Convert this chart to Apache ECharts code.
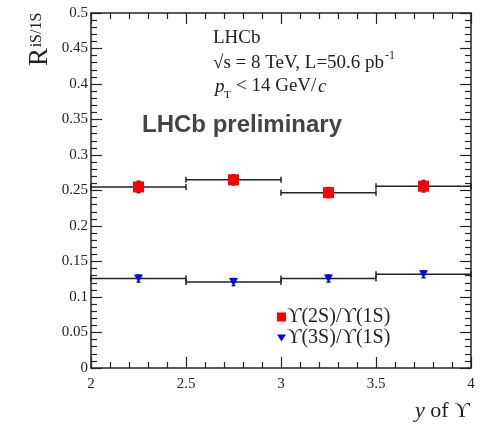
<!DOCTYPE html>
<html>
<head>
<meta charset="utf-8">
<script src="https://cdn.jsdelivr.net/npm/echarts@6/dist/echarts.min.js"></script>
<style>
  html, body { margin: 0; padding: 0; background: #fff; }
  #chart { width: 481px; height: 426px; }
</style>
</head>
<body>
<div id="chart"></div>
<script>
// Rapidity bins of the Upsilon and the measured cross-section ratios
const binLow = [2.0, 2.5, 3.0, 3.5];
const binHigh = [2.5, 3.0, 3.5, 4.0];
const binCenter = [2.25, 2.75, 3.25, 3.75];
const ratio2S = [0.255, 0.265, 0.247, 0.256];
const err2S = [0.008, 0.007, 0.007, 0.008];
const ratio3S = [0.126, 0.121, 0.126, 0.132];
const err3S = [0.005, 0.005, 0.005, 0.005];
const name2S = 'ϒ(2S)/ϒ(1S)';
const name3S = 'ϒ(3S)/ϒ(1S)';

const serif = 'Liberation Serif';
const tickColor = '#222';

function binRows(vals, errs) {
  return vals.map((v, i) => [binLow[i], binHigh[i], binCenter[i], v, errs[i]]);
}

// Horizontal bin-width bar with end caps plus a vertical error bar
function renderBin(params, api) {
  const lo = api.coord([api.value(0), api.value(3)]);
  const hi = api.coord([api.value(1), api.value(3)]);
  const c = api.value(2), v = api.value(3), e = api.value(4);
  const top = api.coord([c, v + e]);
  const bot = api.coord([c, v - e]);
  const st = { stroke: '#222', lineWidth: 1.5 };
  const cap = 3;
  return {
    type: 'group',
    children: [
      { type: 'line', shape: { x1: lo[0], y1: lo[1], x2: hi[0], y2: hi[1] }, style: st },
      { type: 'line', shape: { x1: lo[0], y1: lo[1] - cap, x2: lo[0], y2: lo[1] + cap }, style: st },
      { type: 'line', shape: { x1: hi[0], y1: hi[1] - cap, x2: hi[0], y2: hi[1] + cap }, style: st },
      { type: 'line', shape: { x1: top[0], y1: top[1], x2: bot[0], y2: bot[1] }, style: st },
      { type: 'line', shape: { x1: top[0] - 2, y1: top[1], x2: top[0] + 2, y2: top[1] }, style: st },
      { type: 'line', shape: { x1: bot[0] - 2, y1: bot[1], x2: bot[0] + 2, y2: bot[1] }, style: st }
    ]
  };
}

function mainX(extra) {
  return Object.assign({
    type: 'value', min: 2, max: 4, interval: 0.5,
    axisLine: { show: true, onZero: false, lineStyle: { color: tickColor, width: 1.5 } },
    axisTick: { show: true, inside: true, length: 11, lineStyle: { color: tickColor, width: 1.2 } },
    minorTick: { show: true, splitNumber: 5, length: 6, lineStyle: { color: tickColor, width: 1.2 } },
    splitLine: { show: false },
    axisLabel: { show: true, margin: 9, fontFamily: serif, fontSize: 15, color: tickColor }
  }, extra || {});
}
function mainY(extra) {
  return Object.assign({
    type: 'value', min: 0, max: 0.5, interval: 0.05,
    axisLine: { show: true, onZero: false, lineStyle: { color: tickColor, width: 1.5 } },
    axisTick: { show: true, inside: true, length: 11, lineStyle: { color: tickColor, width: 1.2 } },
    minorTick: { show: true, splitNumber: 5, length: 6, lineStyle: { color: tickColor, width: 1.2 } },
    splitLine: { show: false },
    axisLabel: { show: true, margin: 3, fontFamily: serif, fontSize: 15, color: tickColor }
  }, extra || {});
}

const chart = echarts.init(document.getElementById('chart'), null, { renderer: 'canvas' });

chart.setOption({
  animation: false,
  backgroundColor: '#fff',
  grid: { left: 91, right: 10, top: 13, bottom: 58, containLabel: false },
  xAxis: [
    mainX({ position: 'bottom' }),
    mainX({ position: 'top', axisLabel: { show: false } })
  ],
  yAxis: [
    mainY({ position: 'left' }),
    mainY({ position: 'right', axisLabel: { show: false } })
  ],
  legend: {
    orient: 'vertical',
    left: 272, top: 302,
    itemWidth: 9, itemHeight: 9, itemGap: 1,
    textStyle: { fontFamily: serif, fontSize: 20, color: '#222', padding: [0, 0, 0, -4] },
    data: [
      { name: name2S, icon: 'rect' },
      { name: name3S, icon: 'path://M0,0 L10,0 L5,8 Z' }
    ]
  },
  series: [
    {
      type: 'custom', name: 'bins2S', renderItem: renderBin, z: 2,
      data: binRows(ratio2S, err2S), encode: { x: [0, 1], y: 3 }, silent: true
    },
    {
      type: 'custom', name: 'bins3S', renderItem: renderBin, z: 2,
      data: binRows(ratio3S, err3S), encode: { x: [0, 1], y: 3 }, silent: true
    },
    {
      type: 'scatter', name: name2S, z: 5,
      symbol: 'rect', symbolSize: 11,
      itemStyle: { color: '#ff0000', opacity: 1 },
      data: binCenter.map((c, i) => [c, ratio2S[i]])
    },
    {
      type: 'scatter', name: name3S, z: 5,
      symbol: 'triangle', symbolRotate: 180, symbolSize: [9, 8],
      itemStyle: { color: '#0000ff', opacity: 1 },
      data: binCenter.map((c, i) => [c, ratio3S[i]])
    }
  ],
  graphic: [
    { type: 'text', x: 40, y: 57, rotation: Math.PI / 2,
      style: { text: 'R', font: '27px "Liberation Serif"', fill: '#222', align: 'center', verticalAlign: 'middle' } },
    { type: 'text', x: 37, y: 30, rotation: Math.PI / 2,
      style: { text: 'iS/1S', font: '16px "Liberation Serif"', fill: '#222', align: 'center', verticalAlign: 'middle' } },
    { type: 'text', x: 213, y: 48,
      style: { text: 'LHCb', font: '19px "Liberation Serif"', fill: '#222', align: 'left', verticalAlign: 'bottom' } },
    { type: 'text', x: 213, y: 73,
      style: { text: '√s = 8 TeV, L=50.6 pb', font: '19px "Liberation Serif"', fill: '#222', align: 'left', verticalAlign: 'bottom' } },
    { type: 'text', x: 385, y: 62,
      style: { text: '-1', font: '12px "Liberation Serif"', fill: '#222', align: 'left', verticalAlign: 'bottom' } },
    { type: 'text', x: 215, y: 96,
      style: { text: 'p', font: 'italic 19px "Liberation Serif"', fill: '#222', align: 'left', verticalAlign: 'bottom' } },
    { type: 'text', x: 224, y: 101,
      style: { text: 'T', font: '11px "Liberation Serif"', fill: '#222', align: 'left', verticalAlign: 'bottom' } },
    { type: 'text', x: 236, y: 96,
      style: { text: '< 14 GeV/', font: '19px "Liberation Serif"', fill: '#222', align: 'left', verticalAlign: 'bottom' } },
    { type: 'text', x: 318, y: 96,
      style: { text: 'c', font: 'italic 19px "Liberation Serif"', fill: '#222', align: 'left', verticalAlign: 'bottom' } },
    { type: 'text', x: 142, y: 137,
      style: { text: 'LHCb preliminary', font: 'bold 24px "Liberation Sans"', fill: '#444', align: 'left', verticalAlign: 'bottom' } },
    { type: 'text', x: 470, y: 422,
      style: { text: '{i|y} of ϒ', rich: { i: { font: 'italic 22px "Liberation Serif"', fill: '#222' } },
        font: '22px "Liberation Serif"', fill: '#222', align: 'right', verticalAlign: 'bottom' } }
  ]
});
</script>
</body>
</html>
